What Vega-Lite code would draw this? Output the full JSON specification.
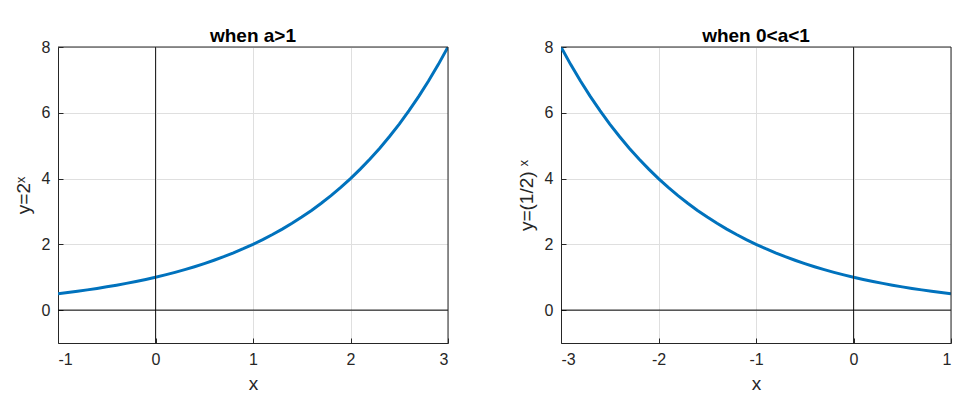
{
  "$schema": "https://vega.github.io/schema/vega-lite/v6.json",
  "background": "white",
  "padding": {"left": 13, "top": 26, "right": 5, "bottom": 5},
  "bounds": "flush",
  "spacing": 113,
  "datasets": {
    "a": [
      {"x": -1.0, "y": 0.5}, {"x": -0.9, "y": 0.5359}, {"x": -0.8, "y": 0.5743}, {"x": -0.7, "y": 0.6156},
      {"x": -0.6, "y": 0.6598}, {"x": -0.5, "y": 0.7071}, {"x": -0.4, "y": 0.7579}, {"x": -0.3, "y": 0.8123},
      {"x": -0.2, "y": 0.8706}, {"x": -0.1, "y": 0.933}, {"x": 0.0, "y": 1.0}, {"x": 0.1, "y": 1.0718},
      {"x": 0.2, "y": 1.1487}, {"x": 0.3, "y": 1.2311}, {"x": 0.4, "y": 1.3195}, {"x": 0.5, "y": 1.4142},
      {"x": 0.6, "y": 1.5157}, {"x": 0.7, "y": 1.6245}, {"x": 0.8, "y": 1.7411}, {"x": 0.9, "y": 1.8661},
      {"x": 1.0, "y": 2.0}, {"x": 1.1, "y": 2.1435}, {"x": 1.2, "y": 2.2974}, {"x": 1.3, "y": 2.4623},
      {"x": 1.4, "y": 2.639}, {"x": 1.5, "y": 2.8284}, {"x": 1.6, "y": 3.0314}, {"x": 1.7, "y": 3.249},
      {"x": 1.8, "y": 3.4822}, {"x": 1.9, "y": 3.7321}, {"x": 2.0, "y": 4.0}, {"x": 2.1, "y": 4.2871},
      {"x": 2.2, "y": 4.5948}, {"x": 2.3, "y": 4.9246}, {"x": 2.4, "y": 5.278}, {"x": 2.5, "y": 5.6569},
      {"x": 2.6, "y": 6.0629}, {"x": 2.7, "y": 6.498}, {"x": 2.8, "y": 6.9644}, {"x": 2.9, "y": 7.4643},
      {"x": 3.0, "y": 8.0}
    ],
    "b": [
      {"x": 1.0, "y": 0.5}, {"x": 0.9, "y": 0.5359}, {"x": 0.8, "y": 0.5743}, {"x": 0.7, "y": 0.6156},
      {"x": 0.6, "y": 0.6598}, {"x": 0.5, "y": 0.7071}, {"x": 0.4, "y": 0.7579}, {"x": 0.3, "y": 0.8123},
      {"x": 0.2, "y": 0.8706}, {"x": 0.1, "y": 0.933}, {"x": 0.0, "y": 1.0}, {"x": -0.1, "y": 1.0718},
      {"x": -0.2, "y": 1.1487}, {"x": -0.3, "y": 1.2311}, {"x": -0.4, "y": 1.3195}, {"x": -0.5, "y": 1.4142},
      {"x": -0.6, "y": 1.5157}, {"x": -0.7, "y": 1.6245}, {"x": -0.8, "y": 1.7411}, {"x": -0.9, "y": 1.8661},
      {"x": -1.0, "y": 2.0}, {"x": -1.1, "y": 2.1435}, {"x": -1.2, "y": 2.2974}, {"x": -1.3, "y": 2.4623},
      {"x": -1.4, "y": 2.639}, {"x": -1.5, "y": 2.8284}, {"x": -1.6, "y": 3.0314}, {"x": -1.7, "y": 3.249},
      {"x": -1.8, "y": 3.4822}, {"x": -1.9, "y": 3.7321}, {"x": -2.0, "y": 4.0}, {"x": -2.1, "y": 4.2871},
      {"x": -2.2, "y": 4.5948}, {"x": -2.3, "y": 4.9246}, {"x": -2.4, "y": 5.278}, {"x": -2.5, "y": 5.6569},
      {"x": -2.6, "y": 6.0629}, {"x": -2.7, "y": 6.498}, {"x": -2.8, "y": 6.9644}, {"x": -2.9, "y": 7.4643},
      {"x": -3.0, "y": 8.0}
    ],
    "originA": [{"vx": 0, "hy": 0, "bx": 3, "by": 8}],
    "originB": [{"vx": 0, "hy": 0, "bx": 1, "by": 8}]
  },
  "hconcat": [
    {
      "title": "when a>1",
      "width": 390,
      "height": 296,
      "layer": [
        {
          "data": {"name": "a"},
          "mark": {"type": "line", "color": "#0072BD", "strokeWidth": 3, "clip": true},
          "encoding": {
            "x": {"field": "x", "type": "quantitative", "title": "x",
                  "scale": {"domain": [-1, 3], "nice": false},
                  "axis": {"values": [-1, 0, 1, 2, 3]}},
            "y": {"field": "y", "type": "quantitative", "title": "y=2ˣ",
                  "scale": {"domain": [-1, 8], "nice": false},
                  "axis": {"values": [0, 2, 4, 6, 8]}}
          }
        },
        {"data": {"name": "originA"}, "mark": {"type": "rule", "color": "#262626", "strokeWidth": 1},
         "encoding": {"x": {"field": "vx", "type": "quantitative"}}},
        {"data": {"name": "originA"}, "mark": {"type": "rule", "color": "#000000", "strokeWidth": 1},
         "encoding": {"y": {"field": "hy", "type": "quantitative"}}},
        {"data": {"name": "originA"}, "mark": {"type": "rule", "color": "#262626", "strokeWidth": 1},
         "encoding": {"x": {"field": "bx", "type": "quantitative"}}},
        {"data": {"name": "originA"}, "mark": {"type": "rule", "color": "#262626", "strokeWidth": 1},
         "encoding": {"y": {"field": "by", "type": "quantitative"}}}
      ]
    },
    {
      "title": "when 0<a<1",
      "width": 390,
      "height": 296,
      "layer": [
        {
          "data": {"name": "b"},
          "mark": {"type": "line", "color": "#0072BD", "strokeWidth": 3, "clip": true},
          "encoding": {
            "x": {"field": "x", "type": "quantitative", "title": "x",
                  "scale": {"domain": [-3, 1], "nice": false},
                  "axis": {"values": [-3, -2, -1, 0, 1]}},
            "y": {"field": "y", "type": "quantitative", "title": "y=(1/2) ˣ",
                  "scale": {"domain": [-1, 8], "nice": false},
                  "axis": {"values": [0, 2, 4, 6, 8]}}
          }
        },
        {"data": {"name": "originB"}, "mark": {"type": "rule", "color": "#262626", "strokeWidth": 1},
         "encoding": {"x": {"field": "vx", "type": "quantitative"}}},
        {"data": {"name": "originB"}, "mark": {"type": "rule", "color": "#000000", "strokeWidth": 1},
         "encoding": {"y": {"field": "hy", "type": "quantitative"}}},
        {"data": {"name": "originB"}, "mark": {"type": "rule", "color": "#262626", "strokeWidth": 1},
         "encoding": {"x": {"field": "bx", "type": "quantitative"}}},
        {"data": {"name": "originB"}, "mark": {"type": "rule", "color": "#262626", "strokeWidth": 1},
         "encoding": {"y": {"field": "by", "type": "quantitative"}}}
      ]
    }
  ],
  "config": {
    "font": "Liberation Sans",
    "axis": {
      "grid": true,
      "gridColor": "#dfdfdf",
      "domainColor": "#262626",
      "tickColor": "#262626",
      "tickSize": -5,
      "labelColor": "#262626",
      "titleColor": "#262626",
      "labelFontSize": 16,
      "titleFontSize": 19,
      "titleFontWeight": "normal",
      "labelPadding": 13,
      "labelExpr": "'' + datum.value"
    },
    "axisX": {"titlePadding": 7},
    "axisY": {"titlePadding": 8},
    "title": {"fontSize": 19, "fontWeight": "bold", "color": "#000000", "offset": -7}
  }
}
